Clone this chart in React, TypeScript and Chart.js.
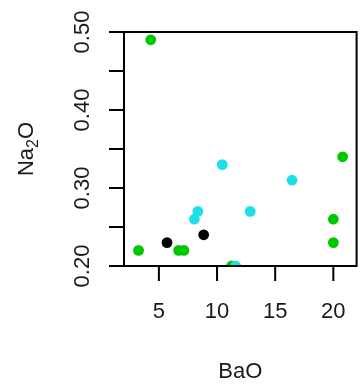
import React, { useEffect, useRef } from "react";
import { Chart, registerables } from "chart.js";

Chart.register(...registerables);

const greenX = [4.3, 3.25, 6.7, 7.15, 11.25, 20.0, 20.0, 20.8];
const greenY = [0.49, 0.22, 0.22, 0.22, 0.2, 0.26, 0.23, 0.34];
const cyanX = [10.45, 16.45, 8.35, 8.05, 12.85, 11.6];
const cyanY = [0.33, 0.31, 0.27, 0.26, 0.27, 0.2];
const blackX = [5.7, 8.85];
const blackY = [0.23, 0.24];

const xTicks = [5, 10, 15, 20];
const yTicks = [0.2, 0.25, 0.3, 0.35, 0.4, 0.45, 0.5];
const yLabelValues = [0.2, 0.3, 0.4, 0.5];
const yLabels = ["0.20", "0.30", "0.40", "0.50"];
const xTitle = "BaO";

const FONT = '"Liberation Sans", Arial, Helvetica, sans-serif';

function pts(xs: number[], ys: number[]) {
  return xs.map((x, i) => ({ x, y: ys[i] }));
}

const axesPlugin = {
  id: "rAxes",
  afterDatasetsDraw(chart: any) {
    const { ctx, chartArea, scales } = chart;
    const xs = scales.x;
    const ys = scales.y;
    const { left, right, top, bottom } = chartArea;
    ctx.save();
    ctx.strokeStyle = "#000";
    ctx.lineWidth = 2;
    ctx.lineCap = "butt";
    ctx.strokeRect(left, top, right - left, bottom - top);
    const tl = 15;
    ctx.beginPath();
    xTicks.forEach((v) => {
      const px = xs.getPixelForValue(v);
      ctx.moveTo(px, bottom);
      ctx.lineTo(px, bottom + tl);
    });
    yTicks.forEach((v) => {
      const py = ys.getPixelForValue(v);
      ctx.moveTo(left, py);
      ctx.lineTo(left - tl, py);
    });
    ctx.stroke();

    ctx.fillStyle = "#1a1a1a";
    ctx.font = `22px ${FONT}`;
    ctx.textAlign = "center";
    ctx.textBaseline = "alphabetic";
    xTicks.forEach((v) => {
      ctx.fillText(String(v), xs.getPixelForValue(v), 318);
    });
    ctx.fillText(xTitle, (left + right) / 2, 378);

    yLabelValues.forEach((v, i) => {
      ctx.save();
      ctx.translate(89, ys.getPixelForValue(v));
      ctx.rotate(-Math.PI / 2);
      ctx.fillText(yLabels[i], 0, 0);
      ctx.restore();
    });

    // y title: Na2O with subscript
    ctx.save();
    ctx.translate(33, (top + bottom) / 2);
    ctx.rotate(-Math.PI / 2);
    ctx.textAlign = "left";
    const big = `22px ${FONT}`;
    const small = `16px ${FONT}`;
    ctx.font = big;
    const wNa = ctx.measureText("Na").width;
    const wO = ctx.measureText("O").width;
    ctx.font = small;
    const w2 = ctx.measureText("2").width;
    const total = wNa + w2 + wO;
    let cx = -total / 2;
    ctx.font = big;
    ctx.fillText("Na", cx, 0);
    cx += wNa;
    ctx.font = small;
    ctx.fillText("2", cx, 5);
    cx += w2;
    ctx.font = big;
    ctx.fillText("O", cx, 0);
    ctx.restore();

    ctx.restore();
  },
};

export default function App() {
  const ref = useRef<HTMLCanvasElement | null>(null);
  useEffect(() => {
    if (!ref.current) return;
    const chart = new Chart(ref.current, {
      type: "scatter",
      data: {
        datasets: [
          {
            label: "black",
            data: pts(blackX, blackY),
            backgroundColor: "#000000",
            borderWidth: 0,
            pointRadius: 5.4,
            clip: 0,
          },
          {
            label: "cyan",
            data: pts(cyanX, cyanY),
            backgroundColor: "#1CE0E6",
            borderWidth: 0,
            pointRadius: 5.4,
            clip: 0,
          },
          {
            label: "green",
            data: pts(greenX, greenY),
            backgroundColor: "#00C800",
            borderWidth: 0,
            pointRadius: 5.4,
            clip: 0,
          },
        ],
      },
      options: {
        animation: false,
        responsive: true,
        maintainAspectRatio: false,
        layout: { padding: { left: 124, right: 3, top: 32, bottom: 121 } },
        plugins: {
          legend: { display: false },
          tooltip: { enabled: false },
        },
        scales: {
          x: { type: "linear", min: 2, max: 22, display: false },
          y: { type: "linear", min: 0.2, max: 0.5, display: false },
        },
      },
      plugins: [axesPlugin],
    } as any);
    return () => chart.destroy();
  }, []);
  return (
    <div
      style={{
        position: "fixed",
        left: 0,
        top: 0,
        width: 362,
        height: 387,
        background: "#fff",
      }}
    >
      <canvas ref={ref} />
    </div>
  );
}
